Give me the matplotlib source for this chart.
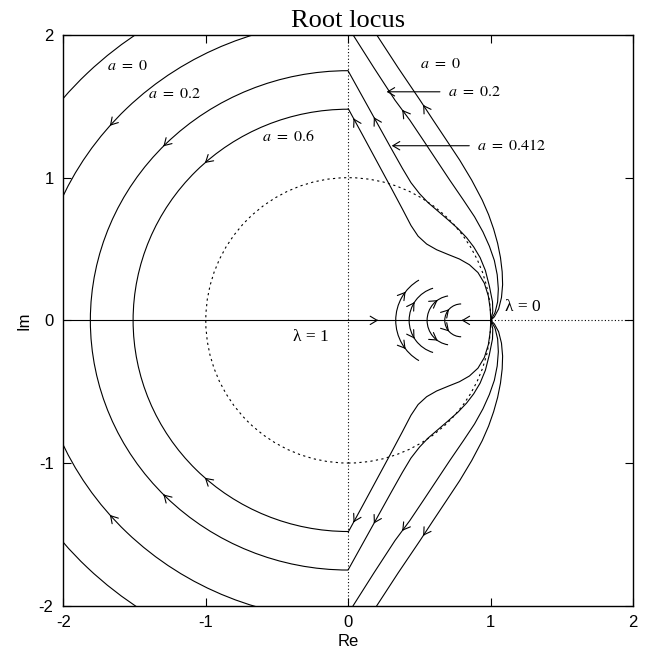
import numpy as np
import matplotlib.pyplot as plt
from matplotlib.patches import Arc, Circle

plt.rcParams['font.family'] = ['Liberation Sans', 'DejaVu Sans']
plt.rcParams['mathtext.fontset'] = 'stix'
plt.rcParams['axes.unicode_minus'] = False

# value of the parameter a on each branch
a_labels = ['0', '0.2', '0.412', '0.6']

# left branches: semi-axes (Re, Im) of the arcs running from the imaginary axis to the real axis
left_re_axis = [2.59, 2.20, 1.81, 1.51]
left_im_axis = [2.45, 2.10, 1.75, 1.48]
left_arrow_deg = [None, 139.5, 135.8, 131.8]

# right branches, upper half, starting from lambda = 0 at (1, 0)
re_a0 = [1.0, 1.025, 1.055, 1.075, 1.083, 1.08, 1.068, 1.048, 1.02, 0.985, 0.940,
         0.866, 0.782, 0.689, 0.595, 0.503, 0.35, 0.20]
im_a0 = [0.0, 0.025, 0.08, 0.16, 0.25, 0.34, 0.44, 0.54, 0.64, 0.74, 0.843,
         0.983, 1.123, 1.263, 1.404, 1.544, 1.77, 2.0]

re_a02 = [1.0, 1.03, 1.048, 1.053, 1.045, 1.025, 0.99, 0.945, 0.886, 0.808, 0.712,
          0.619, 0.526, 0.432, 0.328, 0.18, 0.034]
im_a02 = [0.0, 0.055, 0.13, 0.22, 0.32, 0.42, 0.52, 0.62, 0.726, 0.843, 0.983,
          1.123, 1.263, 1.403, 1.543, 1.77, 2.0]

re_a0412 = [1.0, 1.014, 1.012, 0.99, 0.962, 0.925, 0.88, 0.83, 0.77, 0.70, 0.63,
            0.56, 0.50, 0.44, 0.38, 0.30, 0.20, 0.10, 0.0]
im_a0412 = [0.0, 0.06, 0.13, 0.24, 0.35, 0.44, 0.515, 0.58, 0.643, 0.705, 0.765,
            0.825, 0.888, 0.965, 1.065, 1.207, 1.387, 1.567, 1.747]

re_a06 = [1.0, 0.996, 0.983, 0.955, 0.91, 0.85, 0.78, 0.70, 0.62, 0.55, 0.49,
          0.44, 0.38, 0.30, 0.20, 0.10, 0.0]
im_a06 = [0.0, 0.08, 0.17, 0.26, 0.335, 0.39, 0.43, 0.462, 0.495, 0.535, 0.59,
          0.665, 0.78, 0.93, 1.115, 1.30, 1.483]

right_re = [re_a0, re_a02, re_a0412, re_a06]
right_im = [im_a0, im_a02, im_a0412, im_a06]
right_arrow_im = [1.51, 1.475, 1.424, 1.416]

# short loci leaving the real axis: centre, radius, end angle, arrow angle (upper half)
small_center = [0.659, 0.662, 0.726, 0.792]
small_radius = [0.326, 0.235, 0.173, 0.115]
small_end_deg = [120, 106.6, 98.6, 90]
small_arrow_deg = [142, 147, 125, 137.6]

# real axis part of the locus and its arrows
axis_re = [-2.0, 1.0]
axis_dotted_re = [1.0, 2.0]
axis_arrow_re = [0.21, 0.795]
axis_arrow_dir = [1, -1]

LW = 0.8
HEAD = '->,head_length=0.5,head_width=0.3'
SERIF = ['Liberation Serif', 'DejaVu Serif']


def head(ax, x, y, dx, dy):
    n = np.hypot(dx, dy)
    dx, dy = dx / n, dy / n
    ax.annotate('', xy=(x, y), xytext=(x - 0.01 * dx, y - 0.01 * dy),
                arrowprops=dict(arrowstyle=HEAD, lw=LW, color='black',
                                shrinkA=0, shrinkB=0))


fig = plt.figure(figsize=(6.51, 6.52), dpi=100)
ax = fig.add_axes([0.0972, 0.0710, 0.8756, 0.8753])

# unit circle and imaginary axis
ax.add_patch(Circle((0, 0), 1.0, fill=False, lw=LW, color='black', ls=(0, (2, 3))))
ax.axvline(0, color='black', lw=LW, ls=(0, (1, 2)))
ax.plot(axis_dotted_re, [0, 0], color='black', lw=LW, ls=(0, (1, 2)))
ax.plot(axis_re, [0, 0], color='black', lw=LW)
for xr, d in zip(axis_arrow_re, axis_arrow_dir):
    head(ax, xr, 0.0, d, 0.0)

# left branches
for rx, ry, t in zip(left_re_axis, left_im_axis, left_arrow_deg):
    ax.add_patch(Arc((0, 0), 2 * rx, 2 * ry, theta1=90, theta2=270, lw=LW, color='black'))
    if t is not None:
        tr = np.radians(t)
        x, y = rx * np.cos(tr), ry * np.sin(tr)
        dx, dy = -rx * np.sin(tr), ry * np.cos(tr)
        head(ax, x, y, dx, dy)
        head(ax, x, -y, dx, -dy)

# right branches, mirrored into the lower half plane
for xs, ys, yt in zip(right_re, right_im, right_arrow_im):
    xs = np.array(xs)
    ys = np.array(ys)
    ax.plot(xs, ys, color='black', lw=LW)
    ax.plot(xs, -ys, color='black', lw=LW)
    i = np.searchsorted(ys, yt) - 1
    f = (yt - ys[i]) / (ys[i + 1] - ys[i])
    x = xs[i] + f * (xs[i + 1] - xs[i])
    dx, dy = xs[i + 1] - xs[i], ys[i + 1] - ys[i]
    head(ax, x, yt, dx, dy)
    head(ax, x, -yt, dx, -dy)

# short loci near the real axis
for c, r, te, ta in zip(small_center, small_radius, small_end_deg, small_arrow_deg):
    ax.add_patch(Arc((c, 0), 2 * r, 2 * r, theta1=te, theta2=360 - te, lw=LW, color='black'))
    tr = np.radians(ta)
    x, y = c + r * np.cos(tr), r * np.sin(tr)
    head(ax, x, y, r * np.sin(tr), -r * np.cos(tr))
    head(ax, x, -y, r * np.sin(tr), r * np.cos(tr))

# labels
lab = dict(fontsize=11.5, va='center', ha='left')
ax.text(-1.695, 1.789, r'$a\ =\ 0$', **lab)
ax.text(-1.404, 1.591, r'$a\ =\ 0.2$', **lab)
ax.text(-0.608, 1.292, r'$a\ =\ 0.6$', **lab)
ax.text(0.503, 1.801, r'$a\ =\ 0$', **lab)
ax.text(0.702, 1.602, r'$a\ =\ 0.2$', **lab)
ax.text(0.901, 1.224, r'$a\ =\ 0.412$', **lab)
ax.annotate('', xy=(0.269, 1.602), xytext=(0.643, 1.602),
            arrowprops=dict(arrowstyle=HEAD, lw=LW, color='black', shrinkA=0, shrinkB=0))
ax.annotate('', xy=(0.305, 1.224), xytext=(0.849, 1.224),
            arrowprops=dict(arrowstyle=HEAD, lw=LW, color='black', shrinkA=0, shrinkB=0))
ax.text(-0.386, -0.115, 'λ = 1', family=SERIF, fontsize=12.5, va='center', ha='left')
ax.text(1.100, 0.095, 'λ = 0', family=SERIF, fontsize=12.5, va='center', ha='left')

ax.set_xlim(-2, 2)
ax.set_ylim(-2, 2)
ax.set_xticks([-2, -1, 0, 1, 2])
ax.set_yticks([-2, -1, 0, 1, 2])
ax.tick_params(direction='in', length=5.8, width=0.8, top=True, right=True, labelsize=12)
ax.tick_params(axis='y', pad=7)
ax.tick_params(axis='x', pad=6.5)
for s in ax.spines.values():
    s.set_linewidth(1.0)
ax.set_xlabel('Re', fontsize=12, labelpad=3)
ax.set_ylabel('Im', fontsize=12, labelpad=5)
ax.set_title('Root locus', fontsize=19, family=SERIF, pad=6)

fig.savefig('out.png', dpi=100)
